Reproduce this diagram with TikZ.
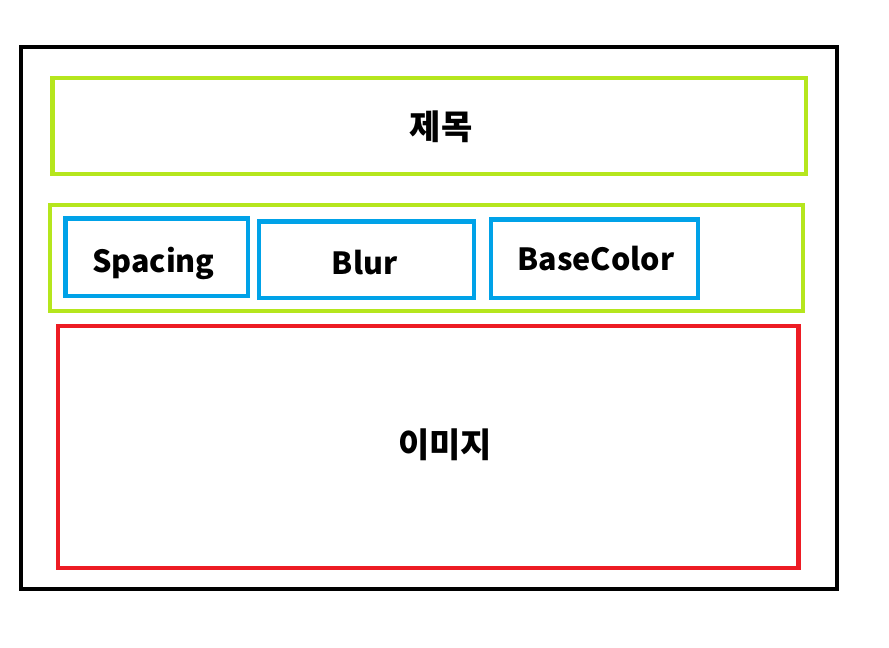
\documentclass[tikz,border=0pt]{standalone}
\usepackage{fontspec}
\setmainfont{Noto Sans CJK KR}
\definecolor{lime}{RGB}{181,230,29}
\definecolor{sky}{RGB}{0,162,232}
\definecolor{paintred}{RGB}{237,28,36}
\tikzset{
  frame/.style={line width=4.8pt},
  label/.style={font=\bfseries\fontsize{34}{34}\selectfont, inner sep=0pt},
  option/.style={font=\bfseries\fontsize{30.5}{30.5}\selectfont, inner sep=0pt, anchor=base}
}
\begin{document}
\begin{tikzpicture}[x=1pt,y=-1pt]
  \useasboundingbox (0,0) rectangle (889,648);
  % Marco exterior
  \draw[frame,black] (21,47) rectangle (837,589);

  % Titulo
  \draw[frame,lime] (52.3,78) rectangle (806,174);
  \node[label] (titulo) at (441,127) {제목};

  % Barra de opciones
  \draw[frame,lime] (50,205) rectangle (803,311);
  \draw[frame,sky] (65.7,218.7) rectangle (248,296);
  \draw[frame,sky] (259,221.3) rectangle (474,298);
  \draw[frame,sky] (491,219.3) rectangle (698,298);
  \node[option] (spacing) at (153.4,272.7) {Spacing};
  \node[option] (blur) at (364.7,274) {Blur};
  \node[option] (basecolor) at (596,270) {BaseColor};

  % Imagen
  \draw[frame,paintred] (58,326) rectangle (798.3,568);
  \node[label] (imagen) at (445,445) {이미지};
\end{tikzpicture}
\end{document}
